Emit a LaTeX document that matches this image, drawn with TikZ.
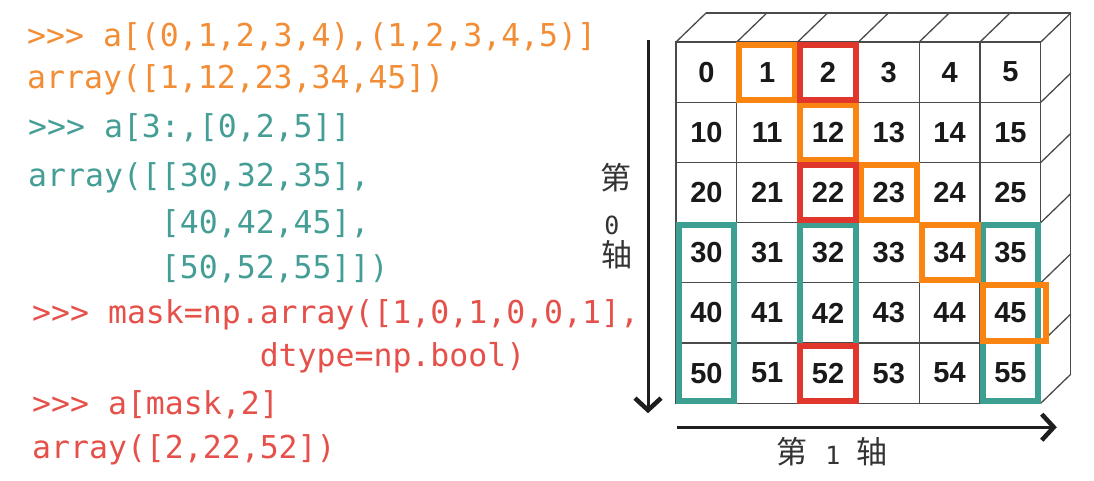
\documentclass[tikz,border=0pt]{standalone}
\usepackage{fontspec}
\setmainfont{Liberation Sans}
\setmonofont{DejaVu Sans Mono}
\newfontfamily\cjkfont{Noto Sans CJK SC}
\usetikzlibrary{arrows.meta, positioning}
\definecolor{codeor}{HTML}{F28D35}
\definecolor{codeteal}{HTML}{459E95}
\definecolor{codered}{HTML}{E5514A}
\definecolor{boxor}{HTML}{FA8412}
\definecolor{boxred}{HTML}{E0362B}
\definecolor{boxteal}{HTML}{3D9E92}
\definecolor{gridgray}{HTML}{4A4A4A}
\definecolor{axisdark}{HTML}{1E1E1E}
\newcommand{\codesize}{\fontsize{31.5}{38}\selectfont}

\begin{document}
\begin{tikzpicture}[
    x=1pt, y=-1pt,
    code/.style ={anchor=west, inner sep=0pt, font=\ttfamily\codesize},
    cell/.style ={draw=gridgray, line width=1.3pt, minimum width=60.8pt,
                  minimum height=60.2pt, inner sep=0pt, outer sep=0pt,
                  text=black!90, font=\bfseries\fontsize{29}{30}\selectfont},
    edge/.style ={draw=gridgray, line width=1.3pt},
    orbox/.style ={draw=boxor, line width=6pt},
    redbox/.style={draw=boxred, line width=6pt},
    tlbox/.style ={draw=boxteal, line width=6pt},
    axis/.style ={line width=3pt, axisdark,
                  -{Straight Barb[length=12pt, width=26pt, line width=4.5pt]}},
    cjklab/.style={inner sep=0pt, text=black!80, font=\cjkfont\fontsize{31}{32}\selectfont},
    numlab/.style={inner sep=0pt, text=black!80, font=\ttfamily\fontsize{25}{27}\selectfont},
]
\useasboundingbox (0,0) rectangle (1094,480);
% code on the left
\node[code, text=codeor]   (l1)  at (27,37)  {>>> a[(0,1,2,3,4),(1,2,3,4,5)]};
\node[code, text=codeor]   (l2)  at (27,80)  {array([1,12,23,34,45])};
\node[code, text=codeteal] (l3)  at (28,128) {>>> a[3:,[0,2,5]]};
\node[code, text=codeteal] (l4)  at (28,178) {array([[30,32,35],};
\node[code, text=codeteal] (l5)  at (28,225) {\phantom{array([}[40,42,45],};
\node[code, text=codeteal] (l6)  at (28,270) {\phantom{array([}[50,52,55]])};
\node[code, text=codered]  (l7)  at (32,315) {>>> mask=np.array([1,0,1,0,0,1],};
\node[code, text=codered]  (l8)  at (32,358) {\phantom{>>> mask=np.}dtype=np.bool)};
\node[code, text=codered]  (l9)  at (32,405) {>>> a[mask,2]};
\node[code, text=codered]  (l10) at (32,450) {array([2,22,52])};
% the array
\foreach \r in {0,...,5}
  \foreach \c in {0,...,5} {
    \pgfmathtruncatemacro{\v}{10*\r+\c}
    \node[cell] (c\r\c) at ({706.4+60.8*\c},{72.1+60.2*\r}) {\v};
  }
% depth faces
\foreach \c in {0,...,5}
  \draw[edge] (c0\c.north west) -- ++(30,-29);
\draw[edge] (c05.north east) -- ++(30,-29) coordinate (backtr);
\foreach \r in {0,...,5}
  \draw[edge] (c\r5.south east) -- ++(30,-29);
\draw[edge] ([shift={(30,-29)}]c00.north west) -- (backtr)
            -- ([shift={(30,-29)}]c55.south east);
% selections
\foreach \c in {0,2,5}
  \draw[tlbox] ([shift={(2.5,2.5)}]c3\c.north west) rectangle ([shift={(-2.5,-2.5)}]c5\c.south east);
\foreach \k in {01,12,23,34}
  \draw[orbox] ([shift={(2.5,2.5)}]c\k.north west) rectangle ([shift={(-2.5,-2.5)}]c\k.south east);
\draw[orbox] ([shift={(2.5,2.5)}]c45.north west) rectangle ([shift={(5,-2.5)}]c45.south east);
\foreach \k in {02,22,52}
  \draw[redbox] ([shift={(2.5,2.5)}]c\k.north west) rectangle ([shift={(-2.5,-2.5)}]c\k.south east);
% axes
\draw[axis] ([shift={(-28,-2)}]c00.north west) -- ([shift={(-28,10)}]c50.south west);
\draw[axis] ([shift={(1,24)}]c50.south west) -- ([shift={(16,24)}]c55.south east);
\node[cjklab] (ax0a) at (616,178) {第};
\node[numlab] (ax0b) at (612,225) {0};
\node[cjklab] (ax0c) at (617,255) {轴};
\node[cjklab] (ax1a) at (792,452) {第};
\node[numlab] (ax1b) at (833,455) {1};
\node[cjklab] (ax1c) at (872,452) {轴};
\end{tikzpicture}
\end{document}
